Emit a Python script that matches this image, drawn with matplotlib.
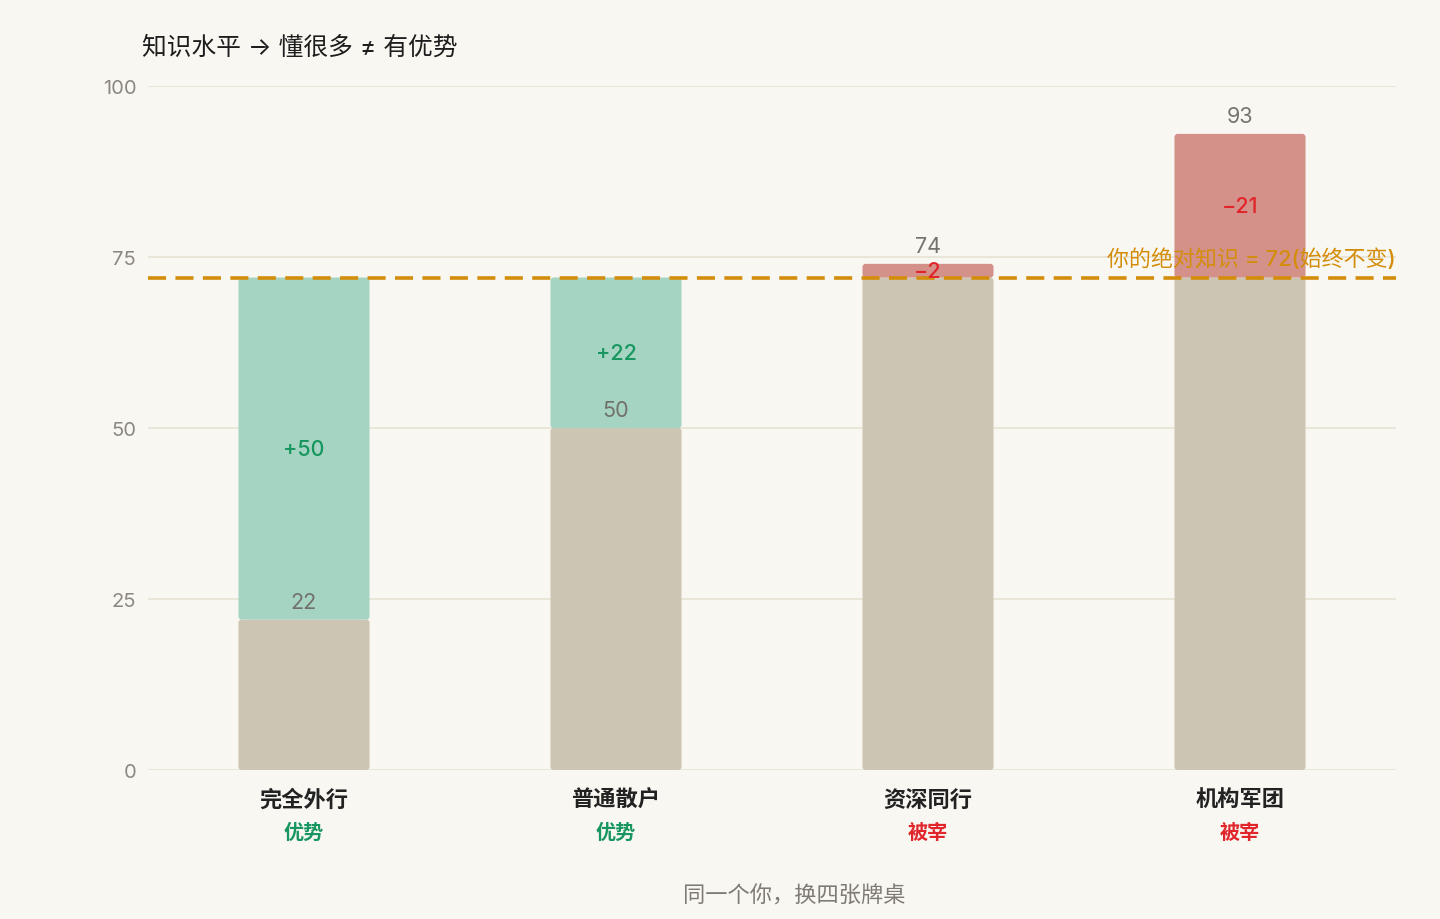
import matplotlib
matplotlib.use('Agg')
import matplotlib.pyplot as plt
from matplotlib.patches import FancyBboxPatch
import matplotlib.transforms as mtransforms

plt.rcParams['font.family'] = ['Inter', 'Noto Sans CJK SC', 'DejaVu Sans']

# data
categories = ['完全外行', '普通散户', '资深同行', '机构军团']
verdicts = ['优势', '优势', '被宰', '被宰']
opponent = [22, 50, 74, 93]
my_level = 72
y_ticks = [0, 25, 50, 75, 100]

BG = '#F9F7F2'
TAN = '#CDC5B3'
GREEN_BAR = '#A5D5C2'
RED_BAR = '#D4918A'
GREEN_TXT = '#17965F'
RED_TXT = '#E0262B'
GOLD = '#D38D0B'
GRID = '#E8E2D5'

fig = plt.figure(figsize=(14.4, 9.2), dpi=100, facecolor=BG)
ax = fig.add_axes([148 / 1440, 1 - 771 / 920, 1248 / 1440, 684 / 920])
ax.set_facecolor(BG)
ax.set_xlim(-0.5, 3.5)
ax.set_ylim(0, 100)

for s in ax.spines.values():
    s.set_visible(False)
ax.set_yticks(y_ticks)
ax.set_yticklabels([str(t) for t in y_ticks], fontsize=14.5, color='#8C8782')
ax.tick_params(axis='y', length=0, pad=8.5)
ax.set_xticks([])
for t in y_ticks:
    ax.axhline(t, color=GRID, lw=1.2, zorder=0)

width = 0.42
# pixel scale for rounded corners
aspect = (1248 / 4) / (684 / 100)


def rbar(x, y0, y1, color):
    p = FancyBboxPatch((x - width / 2, y0), width, y1 - y0,
                       boxstyle='round,pad=0,rounding_size=0.01',
                       mutation_aspect=aspect, facecolor=color,
                       edgecolor='none', zorder=2)
    ax.add_patch(p)


for i, opp in enumerate(opponent):
    lo = min(opp, my_level)
    hi = max(opp, my_level)
    rbar(i, 0, lo, TAN)
    diff = my_level - opp
    if diff > 0:
        rbar(i, lo, hi, GREEN_BAR)
        dtxt, dcol = '+%d' % diff, GREEN_TXT
    else:
        rbar(i, lo, hi, RED_BAR)
        dtxt, dcol = '\u2212%d' % (-diff), RED_TXT
    ax.text(i, (lo + hi) / 2, dtxt, ha='center', va='center',
            fontsize=15.5, fontweight='medium', color=dcol, zorder=4)
    ax.text(i, opp + 1.1, str(opp), ha='center', va='bottom',
            fontsize=15.5, color='#6F6B66', alpha=0.95, zorder=4)

# my level line
ax.axhline(my_level, color=GOLD, lw=2.6, dashes=(5, 2.6), zorder=3)
ax.text(3.5, my_level + 2.8, '你的绝对知识 = 72(始终不变)', ha='right',
        va='center', fontsize=15.8, fontweight='medium', color=GOLD, zorder=4)

# category labels
trans = mtransforms.blended_transform_factory(ax.transData, fig.transFigure)
for i, (c, v) in enumerate(zip(categories, verdicts)):
    ax.text(i, 1 - 800 / 920, c, transform=trans, ha='center', va='center',
            fontsize=16, color='#222222', fontweight='bold')
    ax.text(i, 1 - 833 / 920, v, transform=trans, ha='center', va='center',
            fontsize=14.5, fontweight='bold',
            color=GREEN_TXT if v == '优势' else RED_TXT)

fig.text(142 / 1440, 1 - 48 / 920, '知识水平 \u2192 懂很多 \u2260 有优势',
         ha='left', va='center', fontsize=17.8, color='#1E1E1E')
fig.text(794 / 1440, 1 - 896 / 920, '同一个你，换四张牌桌', ha='center',
         va='center', fontsize=16, color='#7F7A75')

fig.savefig('out.png', dpi=100, facecolor=BG)
